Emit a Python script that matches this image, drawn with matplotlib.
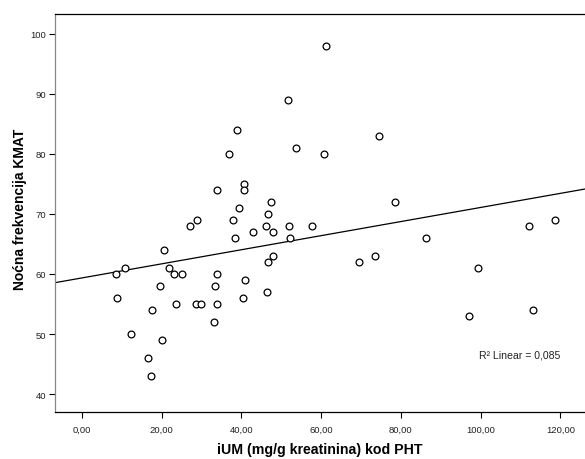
import numpy as np
from matplotlib import pyplot as plt
from matplotlib.ticker import FuncFormatter

plt.rcParams['font.family'] = ['Liberation Sans', 'DejaVu Sans']

# iUM (mg/g kreatinina) kod PHT
ium = [51.7, 38.9, 53.7, 37.0, 33.8, 40.6, 40.6, 47.4, 39.3, 46.7,
       61.3, 74.5, 60.8, 78.6, 118.7, 27.1, 28.8, 37.8, 38.5, 42.8,
       46.1, 47.9, 51.9, 52.2, 57.7, 20.7, 10.7, 8.5, 21.9, 23.2,
       25.1, 33.8, 48.0, 46.7, 41.0, 33.3, 19.5, 8.8, 40.5, 46.5,
       17.5, 23.7, 28.6, 29.8, 33.8, 33.0, 12.2, 20.0, 16.5, 17.3,
       69.5, 73.6, 86.3, 99.3, 112.1, 97.2, 113.1]
# Nocna frekvencija KMAT
kmat = [89, 84, 81, 80, 74, 75, 74, 72, 71, 70,
        98, 83, 80, 72, 69, 68, 69, 69, 66, 67,
        68, 67, 68, 66, 68, 64, 61, 60, 61, 60,
        60, 60, 63, 62, 59, 58, 58, 56, 56, 57,
        54, 55, 55, 55, 55, 52, 50, 49, 46, 43,
        62, 63, 66, 61, 68, 53, 54]

xticks = [0, 20, 40, 60, 80, 100, 120]
yticks = [40, 50, 60, 70, 80, 90, 100]

x = np.array(ium)
y = np.array(kmat)
slope, intercept = np.polyfit(x, y, 1)

fig = plt.figure(figsize=(5.85, 4.6), dpi=100)
ax = fig.add_axes([0.0935, 0.1015, 0.9065, 0.8659])

xmin, xmax = -6.84, 126.2
ax.set_xlim(xmin, xmax)
ax.set_ylim(36.95, 103.33)

ax.scatter(x, y, s=24, facecolors='white', edgecolors='black', linewidths=0.9, zorder=3)
xl = np.array([xmin, xmax])
ax.plot(xl, intercept + slope * xl, color='black', lw=0.9, zorder=2)

ax.text(0.877, 0.144, 'R² Linear = 0,085', transform=ax.transAxes,
        fontsize=7.6, ha='center', va='center', color='#222222')

ax.set_xticks(xticks)
ax.set_yticks(yticks)
ax.xaxis.set_major_formatter(FuncFormatter(lambda v, p: f'{v:.2f}'.replace('.', ',')))
ax.tick_params(labelsize=6.8, length=4, width=0.8, colors='black', labelcolor='#222222', pad=2)
ax.tick_params(axis='x', pad=5)
ax.spines['right'].set_visible(False)
for s in ['left', 'top', 'bottom']:
    ax.spines[s].set_linewidth(0.9)
ax.spines['left'].set_color('#888888')

ax.set_xlabel('iUM (mg/g kreatinina) kod PHT', fontsize=10.2, fontweight='bold', va='center')
ax.set_ylabel('Noćna frekvencija KMAT', fontsize=10, fontweight='bold', va='center')
ax.xaxis.set_label_coords(0.5 * (215.7 + 424 - 2 * 54.7) / 530.3, -0.092)
ax.yaxis.set_label_coords(-0.0654, 0.5 * ((413.3 - 130) + (413.3 - 288)) / 398.3)

fig.savefig('out.png', dpi=100)
